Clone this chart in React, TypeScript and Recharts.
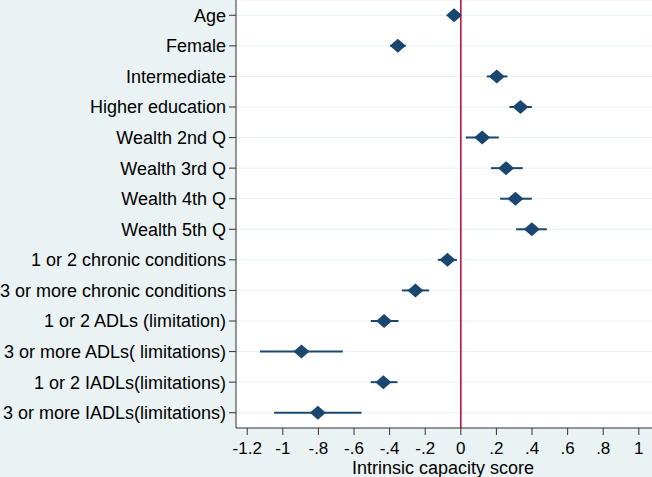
import React from 'react';
import {
  ScatterChart,
  Scatter,
  XAxis,
  YAxis,
  CartesianGrid,
  ReferenceLine,
  ErrorBar,
  Label,
} from 'recharts';

const labels = [
  'Age',
  'Female',
  'Intermediate',
  'Higher education',
  'Wealth 2nd Q',
  'Wealth 3rd Q',
  'Wealth 4th Q',
  'Wealth 5th Q',
  '1 or 2 chronic conditions',
  '3 or more chronic conditions',
  '1 or 2 ADLs (limitation)',
  '3 or more ADLs( limitations)',
  '1 or 2 IADLs(limitations)',
  '3 or more IADLs(limitations)',
];

const estimates = [-0.038, -0.354, 0.202, 0.335, 0.12, 0.254, 0.307, 0.399, -0.075, -0.255, -0.431, -0.895, -0.435, -0.803];
const lower = [-0.05, -0.397, 0.146, 0.273, 0.028, 0.17, 0.221, 0.311, -0.129, -0.331, -0.506, -1.128, -0.506, -1.049];
const upper = [-0.026, -0.309, 0.262, 0.399, 0.213, 0.348, 0.399, 0.483, -0.022, -0.178, -0.35, -0.663, -0.356, -0.558];

const xTicks = [-1.2, -1, -0.8, -0.6, -0.4, -0.2, 0, 0.2, 0.4, 0.6, 0.8, 1];
const yTicks = labels.map((_, i) => i + 1);

const data = labels.map((name, i) => ({
  name,
  pos: i + 1,
  est: estimates[i],
  ci: [estimates[i] - lower[i], upper[i] - estimates[i]],
}));

const NAVY = '#1a476f';

const fmtX = (v: number) => {
  if (v === 0) return '0';
  const s = String(Math.abs(v)).replace(/^0/, '');
  return (v < 0 ? '-' : '') + s;
};

const Diamond = (props: any) => {
  const { cx, cy } = props;
  if (cx == null || cy == null) return null;
  return (
    <polygon
      points={`${cx - 8},${cy} ${cx},${cy - 7} ${cx + 8},${cy} ${cx},${cy + 7}`}
      fill={NAVY}
    />
  );
};

export default function App() {
  return (
    <div style={{ width: 652, height: 477, background: '#eaf2f3' }}>
      <style>{'body{margin:0}'}</style>
      <ScatterChart
        width={652}
        height={477}
        margin={{ top: 0, right: 0, bottom: 0, left: 0 }}
        style={{ fontFamily: '"Liberation Sans", Arial, sans-serif' }}
      >
        <CartesianGrid vertical={false} stroke="#eaf2f3" fill="#ffffff" />
        <XAxis
          type="number"
          dataKey="est"
          domain={[-1.263, 1.074]}
          allowDataOverflow
          ticks={xTicks}
          interval={0}
          tickFormatter={fmtX}
          height={49}
          tickSize={7}
          tickMargin={7}
          stroke="#333"
          tick={{ fill: '#000', fontSize: 17 }}
        >
          <Label value="Intrinsic capacity score" position="insideBottom" offset={3} dx={-1} fill="#000" fontSize={18} />
        </XAxis>
        <YAxis
          type="number"
          dataKey="pos"
          domain={[0.5, 14.5]}
          reversed
          ticks={yTicks}
          interval={0}
          tickFormatter={(v: number) => labels[v - 1]}
          width={236}
          tickSize={7}
          tickMargin={3}
          stroke="#333"
          tick={{ fill: '#000', fontSize: 18 }}
        />
        <ReferenceLine x={0} stroke="#c10534" strokeWidth={1.5} />
        <Scatter data={data} shape={<Diamond />} isAnimationActive={false}>
          <ErrorBar dataKey="ci" direction="x" width={0} stroke={NAVY} strokeWidth={2} />
        </Scatter>
      </ScatterChart>
    </div>
  );
}
